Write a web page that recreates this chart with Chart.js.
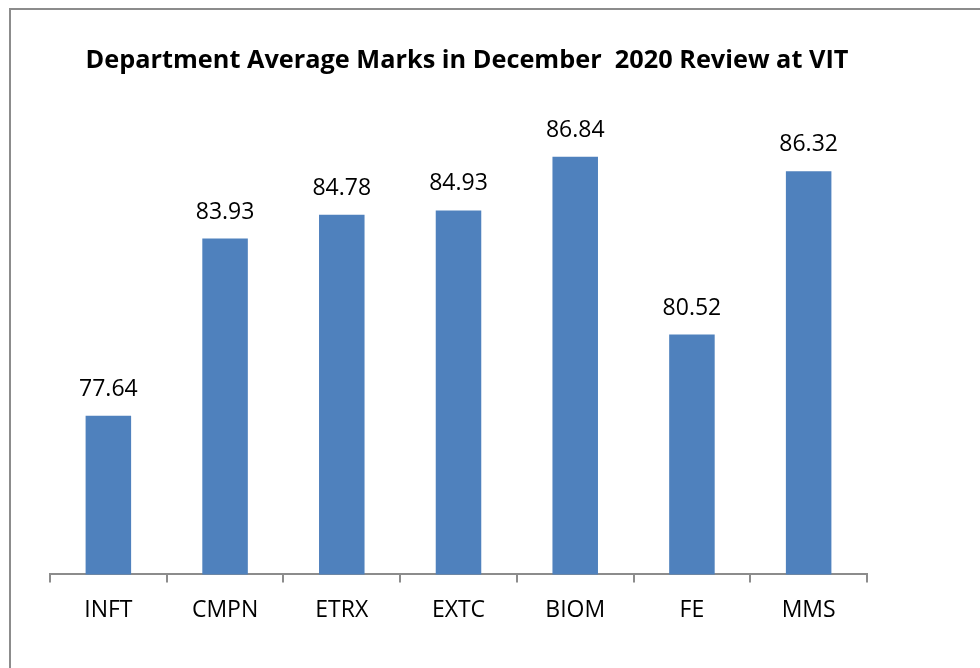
<!DOCTYPE html>
<html>
<head>
<meta charset="utf-8">
<script src="https://cdn.jsdelivr.net/npm/chart.js@4/dist/chart.umd.min.js"></script>
<style>
  html, body { margin: 0; padding: 0; background: #fff; }
  #wrap { position: relative; width: 980px; height: 668px; overflow: hidden; }
  #frame {
    position: absolute; left: 9px; top: 8px; width: 1200px; height: 900px;
    border-left: 2px solid #8c8c8c; border-top: 2px solid #8c8c8c;
    pointer-events: none;
  }
  canvas { position: absolute; left: 0; top: 0; }
</style>
</head>
<body>
<div id="wrap">
  <canvas id="chart" width="980" height="668"></canvas>
  <div id="frame"></div>
</div>
<script>
const DEPARTMENTS = ["INFT", "CMPN", "ETRX", "EXTC", "BIOM", "FE", "MMS"];
const AVG_MARKS = [77.64, 83.93, 84.78, 84.93, 86.84, 80.52, 86.32];
const TITLE = "Department Average Marks in December  2020 Review at VIT";

const FONT_FAMILY = "'Open Sans', 'Noto Sans', sans-serif";
const BAR_COLOR = "#4f81bd";
const AXIS_COLOR = "#8c8c8c";

// value labels above each bar, plus the title (sits a bit right of the plot centre)
const barLabels = {
  id: "barLabels",
  afterDatasetsDraw(chart) {
    const ctx = chart.ctx;
    const meta = chart.getDatasetMeta(0);
    ctx.save();
    ctx.font = `23px ${FONT_FAMILY}`;
    ctx.fillStyle = "#000";
    ctx.textAlign = "center";
    ctx.textBaseline = "alphabetic";
    meta.data.forEach((bar, i) => {
      ctx.fillText(AVG_MARKS[i].toFixed(2), bar.x, bar.y - 20);
    });
    ctx.font = `bold 25.3px ${FONT_FAMILY}`;
    ctx.fillText(TITLE, 467, 68);
    ctx.restore();
  },
};

new Chart(document.getElementById("chart"), {
  type: "bar",
  data: {
    labels: DEPARTMENTS,
    datasets: [{
      data: AVG_MARKS,
      backgroundColor: BAR_COLOR,
      borderWidth: 0,
      categoryPercentage: 1,
      barPercentage: 0.39,
    }],
  },
  options: {
    responsive: false,
    devicePixelRatio: 1,
    animation: false,
    layout: { padding: { left: 50, right: 113, top: 124, bottom: 30 } },
    plugins: {
      legend: { display: false },
      tooltip: { enabled: false },
      title: { display: false },
    },
    scales: {
      y: { display: false, min: 72, max: 88 },
      x: {
        grid: {
          offset: true,
          drawOnChartArea: false,
          drawTicks: true,
          tickLength: 8,
          color: AXIS_COLOR,
          lineWidth: 2,
        },
        border: { display: true, color: AXIS_COLOR, width: 2 },
        ticks: {
          color: "#000",
          font: { family: FONT_FAMILY, size: 23 },
          padding: 14,
        },
      },
    },
  },
  plugins: [barLabels],
});
</script>
</body>
</html>
